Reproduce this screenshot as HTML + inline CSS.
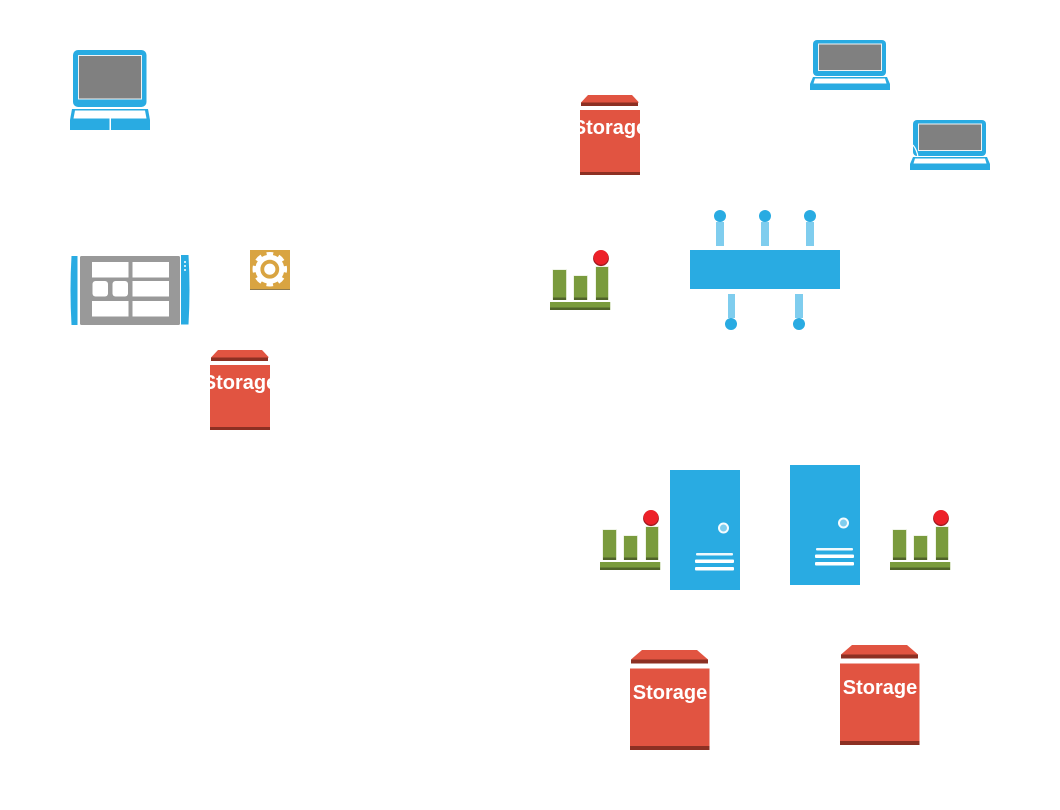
<!DOCTYPE html>
<html>
<head>
<meta charset="utf-8">
<style>
html,body{margin:0;padding:0;background:#fff;width:1060px;height:810px;overflow:hidden}
svg{display:block}
text{font-family:"Liberation Sans",sans-serif;font-weight:bold;font-size:20px;fill:#fff;text-anchor:middle}
</style>
</head>
<body>
<svg width="1060" height="810" viewBox="0 0 1060 810" xmlns="http://www.w3.org/2000/svg">
<defs>
  <g id="chart">
    <g fill="#dfe8cf">
      <rect x="2.500" y="19.500" width="14.500" height="30.500"/>
      <rect x="23.500" y="25.500" width="14.500" height="24.500"/>
      <rect x="45.500" y="16.500" width="13.500" height="33.500"/>
      <rect x="0" y="52" width="61" height="8"/>
    </g>
    <rect x="3" y="20" width="13" height="30" fill="#7a9b3d"/>
    <rect x="3" y="47.500" width="13" height="2.500" fill="#50632a"/>
    <rect x="24" y="26" width="13" height="24" fill="#7a9b3d"/>
    <rect x="24" y="47.500" width="13" height="2.500" fill="#50632a"/>
    <rect x="46" y="17" width="12" height="33" fill="#7a9b3d"/>
    <rect x="46" y="47.500" width="12" height="2.500" fill="#50632a"/>
    <rect x="0" y="52" width="60" height="5.500" fill="#7a9b3d"/>
    <rect x="0" y="57.500" width="60" height="2.500" fill="#50632a"/>
    <circle cx="51" cy="8.200" r="7.900" fill="#9c1a20"/>
    <circle cx="51" cy="7.300" r="7.300" fill="#ed2129"/>
  </g>
  <g id="server">
    <rect x="0" y="0" width="70" height="120" fill="#29abe2"/>
    <circle cx="53.500" cy="58" r="4.500" fill="#7fcdee" stroke="#f4fbfe" stroke-width="2"/>
    <rect x="26" y="83" width="37" height="2.500" rx="1" fill="#f0f9fd"/>
    <rect x="25" y="89.500" width="39" height="3.500" rx="1" fill="#fff"/>
    <rect x="25" y="97" width="39" height="3.500" rx="1" fill="#fff"/>
  </g>
  <g id="storeS">
    <polygon points="8,0 52,0 59,7.500 1,7.500" fill="#e15441"/>
    <rect x="1" y="7.500" width="57" height="3.500" fill="#8c3023"/>
    <rect x="0" y="15" width="60" height="65" fill="#e15441"/>
    <rect x="0" y="77" width="60" height="3" fill="#8c3023"/>
  </g>
  <g id="storeL">
    <polygon points="12,0 67,0 78,9.500 1,9.500" fill="#e15441"/>
    <rect x="1" y="9.500" width="77" height="4" fill="#8c3023"/>
    <rect x="0" y="18.500" width="79.500" height="81.500" fill="#e15441"/>
    <rect x="0" y="96" width="79.500" height="4" fill="#8c3023"/>
  </g>
  <g id="lap">
    <rect x="3" y="0" width="73" height="36" rx="4" fill="#29abe2"/>
    <rect x="8.500" y="4" width="63" height="26.500" fill="#808080" stroke="#f2f2f2" stroke-width="1"/>
    <polygon points="3,37 77,37 80,44 80,50 0,50 0,44" fill="#29abe2"/>
    <polygon points="5,38.500 75,38.500 76.500,43.500 3.500,43.500" fill="#fff"/>
  </g>
</defs>

<!-- big laptop -->
<rect x="73" y="50" width="73.500" height="57" rx="5" fill="#29abe2"/>
<rect x="78.500" y="55.500" width="63" height="43.500" fill="#808080" stroke="#f2f2f2" stroke-width="1"/>
<polygon points="72,109 148,109 150,120 150,130 70,130 70,120" fill="#29abe2"/>
<polygon points="75,110.500 145,110.500 146.500,118.500 73.500,118.500" fill="#fff"/>
<rect x="109.500" y="118.500" width="1.500" height="11.500" fill="#fff"/>

<!-- tablet -->
<path d="M71.500,256 H77.500 V325 H71.500 Q69.500,290 71.500,256 Z" fill="#29abe2"/>
<rect x="80" y="256" width="100" height="69" rx="1.500" fill="#999"/>
<path d="M181,255 H188.500 Q190.500,290 188.500,324.500 H181 Z" fill="#29abe2"/>
<g fill="#fff">
  <rect x="92" y="262" width="36.500" height="15.500"/>
  <rect x="132.500" y="262" width="36.500" height="15.500"/>
  <rect x="92.500" y="281" width="15.500" height="15.500" rx="3"/>
  <rect x="112.500" y="281" width="15.500" height="15.500" rx="3"/>
  <rect x="132.500" y="281" width="36.500" height="15.500"/>
  <rect x="92" y="301" width="36.500" height="15.500"/>
  <rect x="132.500" y="301" width="36.500" height="15.500"/>
  <circle cx="185" cy="262" r="1"/>
  <circle cx="185" cy="266" r="1"/>
  <circle cx="185" cy="270" r="1"/>
</g>

<!-- gear -->
<rect x="250" y="250" width="40" height="40" fill="#d9a441"/>
<rect x="250" y="289" width="40" height="1" fill="#8f7a4c"/>
<circle cx="269.800" cy="269.200" r="14.500" fill="#fff"/>
<circle cx="269.800" cy="269.200" r="15.500" fill="none" stroke="#fff" stroke-width="3.500" stroke-dasharray="6.500 5.674" stroke-dashoffset="3.250"/>
<circle cx="269.800" cy="269.200" r="7.500" fill="none" stroke="#d9a441" stroke-width="3.800"/>

<!-- storage -->
<use href="#storeS" x="580" y="95"/>
<text x="610" y="134">Storage</text>
<use href="#storeS" x="210" y="350"/>
<text x="240" y="389">Storage</text>
<use href="#storeL" x="630" y="650"/>
<text x="670" y="699">Storage</text>
<use href="#storeL" x="840" y="645"/>
<text x="880" y="694">Storage</text>

<!-- small laptops -->
<use href="#lap" x="810" y="40"/>
<use href="#lap" x="910" y="120"/>
<path d="M913,145 Q917,150 918,157" fill="none" stroke="#fff" stroke-width="1.200"/>

<!-- switch -->
<rect x="690" y="250" width="150" height="39" fill="#29abe2"/>
<g fill="#7fcdee">
  <rect x="716" y="222" width="8" height="24"/>
  <rect x="761" y="222" width="8" height="24"/>
  <rect x="806" y="222" width="8" height="24"/>
  <rect x="728" y="294" width="7" height="24"/>
  <rect x="795" y="294" width="8" height="24"/>
</g>
<g fill="#29abe2">
  <circle cx="720" cy="216" r="6"/>
  <circle cx="765" cy="216" r="6"/>
  <circle cx="810" cy="216" r="6"/>
  <circle cx="731" cy="324" r="6"/>
  <circle cx="799" cy="324" r="6"/>
</g>

<!-- charts -->
<use href="#chart" x="550" y="250"/>
<use href="#chart" x="600" y="510"/>
<use href="#chart" x="890" y="510"/>

<!-- servers -->
<use href="#server" x="670" y="470"/>
<use href="#server" x="790" y="465"/>
</svg>
</body>
</html>
